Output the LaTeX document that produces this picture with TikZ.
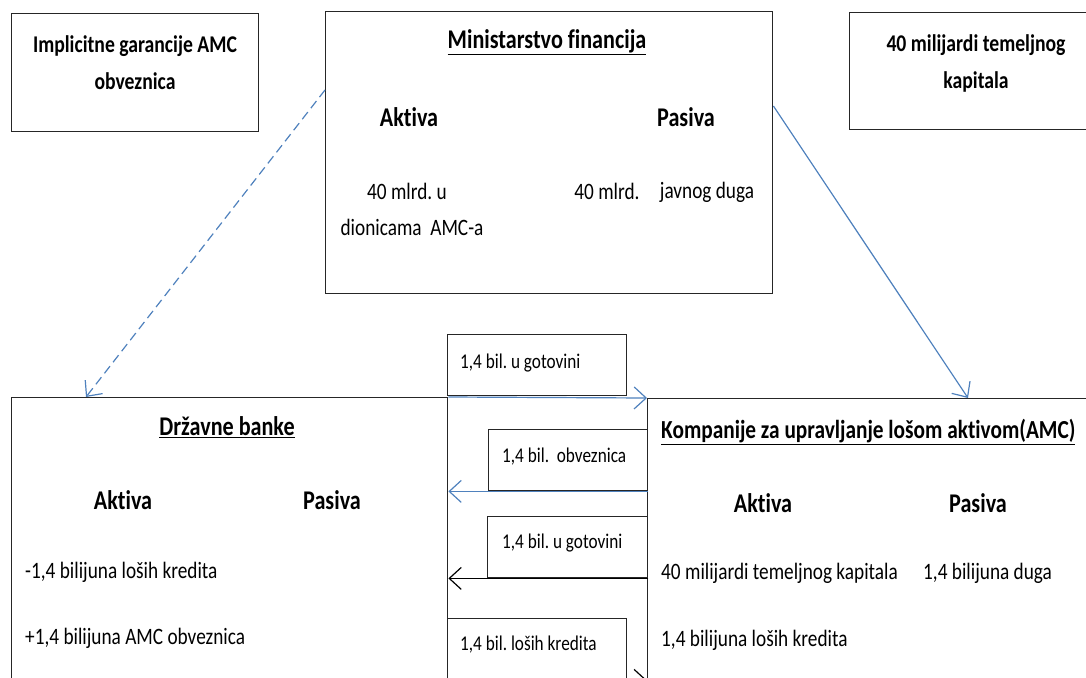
\documentclass[tikz,border=0pt]{standalone}
\usepackage{fontspec}
\setmainfont{Carlito}[FakeStretch=0.82,Ligatures={NoCommon}]
\usetikzlibrary{arrows.meta,calc}
\definecolor{lineblue}{HTML}{4F81BD}
\frenchspacing
\begin{document}
\begin{tikzpicture}[x=1pt,y=-1pt,
    box/.style={draw=black!85,line width=1.4pt,inner sep=0pt,anchor=north west},
    title/.style={font=\fontsize{27}{32}\selectfont\bfseries,inner sep=0pt},
    corner/.style={font=\fontsize{24}{37}\selectfont\bfseries,align=center,inner sep=0pt},
    body/.style={font=\fontsize{23.5}{28}\selectfont,inner sep=0pt},
    small/.style={font=\fontsize{21}{25}\selectfont,inner sep=0pt,anchor=west},
    flow/.style={line width=1.2pt,-{Straight Barb[length=12pt,width=22pt]}}]
      \useasboundingbox (0,0) rectangle (1086,677);
      \clip (0,0) rectangle (1086,677);
      \node[box,minimum width=247pt,minimum height=118pt] (impl) at (11,13) {};
      \node[box,minimum width=447pt,minimum height=282pt] (mf) at (325,11) {};
      \node[box,minimum width=250pt,minimum height=117pt] (kap) at (849,12) {};
      \node[box,minimum width=436pt,minimum height=330pt] (banke) at (11,397) {};
      \node[box,minimum width=460pt,minimum height=330pt] (amc) at (647,398) {};
      \node[box,minimum width=179pt,minimum height=61pt] (gotov1) at (447,334) {};
      \node[box,minimum width=159pt,minimum height=61pt] (obvez) at (488,429) {};
      \node[box,minimum width=160pt,minimum height=61pt] (gotov2) at (487,516) {};
      \node[box,minimum width=179pt,minimum height=61pt] (kredit) at (447,618) {};
      \draw
        (135,63) node[corner] (impltxt) {Implicitne garancije AMC\\obveznica}
        (976,63) node[corner] (kaptxt) {40 milijardi temeljnog\\kapitala}
        (547,42) node[title] (mfname) {\underline{Ministarstvo financija}}
        (409,117) node[title] (mfakt) {Aktiva}
        (686,117) node[title] (mfpas) {Pasiva}
        (407,191) node[body] (mfa1) {40 mlrd. u}
        (412,227) node[body] (mfa2) {dionicama~ AMC-a}
        (607,191) node[body] (mfp1) {40 mlrd.}
        (707,192) node[body] (mfp2) {javnog duga}
        (227,427) node[title] (bname) {\underline{Državne banke}}
        (123,500) node[title] (bakt) {Aktiva}
        (332,500) node[title] (bpas) {Pasiva}
        (25,572) node[body,anchor=west] (ba1) {-1,4 bilijuna loših kredita}
        (25,638) node[body,anchor=west] (ba2) {+1,4 bilijuna AMC obveznica}
        (661,432) node[title,anchor=west,font=\fontsize{26}{31}\selectfont\bfseries] (aname) {\underline{Kompanije za upravljanje lošom aktivom(AMC)}}
        (763,503) node[title] (aakt) {Aktiva}
        (978,503) node[title] (apas) {Pasiva}
        (661,573) node[body,anchor=west] (aa1) {40 milijardi temeljnog kapitala}
        (923,573) node[body,anchor=west] (ap1) {1,4 bilijuna duga}
        (661,640) node[body,anchor=west] (aa2) {1,4 bilijuna loših kredita}
        (460,363) node[small] (g1txt) {1,4 bil. u gotovini}
        (502,457) node[small] (obtxt) {1,4 bil.~ obveznica}
        (502,543) node[small] (g2txt) {1,4 bil. u gotovini}
        (460,645) node[small] (krtxt) {1,4 bil. loših kredita};
      \begin{scope}[flow]
        \draw[lineblue,dash pattern=on 9pt off 5pt] ($(mf.north west)+(0,79)$) to ($(banke.north west)+(75,0)$);
        \draw[lineblue] ($(mf.north east)+(0,95)$) to ($(amc.north west)+(321,0)$);
        \draw[lineblue] (banke.north east) to (amc.north west);
        \draw[lineblue] (obvez.south east) to (obvez.south east -| banke.east);
        \draw[black] (gotov2.south east) to (gotov2.south east -| banke.east);
        \draw[black] (kredit.south west) to (kredit.south west -| amc.west);
      \end{scope}
    \end{tikzpicture}
\end{document}
